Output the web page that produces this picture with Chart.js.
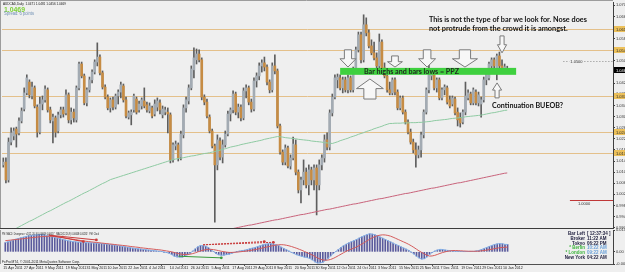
<!DOCTYPE html>
<html><head><meta charset="utf-8">
<script src="https://cdn.jsdelivr.net/npm/chart.js@4.4.1/dist/chart.umd.min.js"></script>
<style>
html,body{margin:0;padding:0;background:#efefef;}
#wrap{position:relative;width:625px;height:272px;overflow:hidden;background:#efefef;}
#c1{position:absolute;left:0;top:0;}
#c2{position:absolute;left:0;top:226px;}
</style></head><body>
<div id="wrap">
<canvas id="c1" width="643" height="229"></canvas>
<canvas id="c2" width="643" height="46"></canvas>
</div>
<script>
// ---------- DATA ----------
const dateTicks = ['15 Apr 2011','27 Apr 2011','9 May 2011','19 May 2011','31 May 2011','10 Jun 2011','22 Jun 2011','4 Jul 2011','14 Jul 2011','26 Jul 2011','5 Aug 2011','17 Aug 2011','29 Aug 2011','8 Sep 2011','20 Sep 2011','30 Sep 2011','12 Oct 2011','24 Oct 2011','3 Nov 2011','15 Nov 2011','25 Nov 2011','7 Dec 2011','19 Dec 2011','29 Dec 2011','10 Jan 2012'];

const open = [1.0126,1.0136,1.0072,1.0208,1.0230,1.0255,1.0241,1.0284,1.0327,1.0385,
1.0424,1.0374,1.0403,1.0334,1.0244,1.0345,1.0360,1.0396,1.0324,1.0284,
1.0295,1.0248,1.0306,1.0324,1.0313,1.0378,1.0288,1.0316,1.0288,1.0403,
1.0489,1.0446,1.0349,1.0396,1.0432,1.0460,1.0496,1.0514,1.0457,1.0406,
1.0370,1.0331,1.0360,1.0334,1.0374,1.0388,1.0410,1.0360,1.0298,1.0306,
1.0324,1.0363,1.0324,1.0338,1.0356,1.0342,1.0320,1.0331,1.0309,1.0334,
1.0349,1.0306,1.0316,1.0316,1.0306,1.0144,1.0194,1.0198,1.0154,1.0234,
1.0331,1.0356,1.0403,1.0468,1.0504,1.0525,1.0504,1.0370,1.0352,1.0298,
1.0248,1.0194,1.0126,1.0212,1.0154,1.0198,1.0237,1.0309,1.0324,1.0381,
1.0316,1.0334,1.0295,1.0392,1.0403,1.0352,1.0327,1.0428,1.0446,1.0482,
1.0493,1.0478,1.0424,1.0396,1.0482,1.0464,1.0266,1.0172,1.0136,1.0187,
1.0122,1.0151,1.0198,1.0100,1.0036,1.0072,1.0100,1.0054,1.0108,1.0072,
1.0115,1.0054,1.0126,1.0151,1.0216,1.0190,1.0313,1.0370,1.0432,1.0439,
1.0403,1.0432,1.0396,1.0439,1.0396,1.0468,1.0540,1.0594,1.0504,1.0630,
1.0601,1.0554,1.0529,1.0511,1.0482,1.0568,1.0475,1.0446,1.0396,1.0385,
1.0432,1.0388,1.0331,1.0367,1.0316,1.0280,1.0244,1.0208,1.0180,1.0162,
1.0180,1.0234,1.0316,1.0396,1.0446,1.0453,1.0403,1.0432,1.0367,1.0396,
1.0403,1.0360,1.0345,1.0363,1.0316,1.0295,1.0280,1.0316,1.0367,1.0381,
1.0349,1.0388,1.0349,1.0345,1.0360,1.0432,1.0439,1.0482,1.0504,1.0475,
1.0518,1.0482,1.0475,1.0471];
const high = [1.0151,1.0151,1.0223,1.0259,1.0259,1.0262,1.0295,1.0331,1.0403,1.0450,
1.0432,1.0424,1.0410,1.0342,1.0370,1.0374,1.0410,1.0403,1.0334,1.0309,
1.0302,1.0316,1.0334,1.0334,1.0396,1.0385,1.0331,1.0327,1.0410,1.0496,
1.0496,1.0453,1.0403,1.0442,1.0468,1.0504,1.0565,1.0522,1.0464,1.0414,
1.0378,1.0367,1.0370,1.0381,1.0396,1.0424,1.0417,1.0370,1.0320,1.0324,
1.0381,1.0370,1.0356,1.0367,1.0403,1.0352,1.0349,1.0338,1.0360,1.0367,
1.0360,1.0338,1.0334,1.0331,1.0313,1.0205,1.0212,1.0205,1.0248,1.0342,
1.0370,1.0414,1.0482,1.0547,1.0543,1.0540,1.0511,1.0378,1.0363,1.0306,
1.0255,1.0201,1.0234,1.0223,1.0216,1.0248,1.0320,1.0331,1.0392,1.0388,
1.0345,1.0342,1.0403,1.0414,1.0410,1.0363,1.0439,1.0457,1.0493,1.0504,
1.0514,1.0486,1.0432,1.0493,1.0522,1.0471,1.0273,1.0180,1.0198,1.0194,
1.0162,1.0226,1.0216,1.0108,1.0082,1.0144,1.0115,1.0126,1.0118,1.0126,
1.0126,1.0144,1.0162,1.0234,1.0241,1.0324,1.0381,1.0450,1.0453,1.0450,
1.0442,1.0442,1.0450,1.0446,1.0478,1.0550,1.0604,1.0604,1.0666,1.0655,
1.0612,1.0576,1.0568,1.0529,1.0597,1.0576,1.0493,1.0457,1.0424,1.0439,
1.0439,1.0396,1.0374,1.0374,1.0324,1.0288,1.0255,1.0219,1.0205,1.0194,
1.0244,1.0324,1.0403,1.0493,1.0468,1.0460,1.0439,1.0439,1.0403,1.0414,
1.0410,1.0374,1.0374,1.0370,1.0331,1.0313,1.0324,1.0424,1.0396,1.0388,
1.0403,1.0396,1.0388,1.0370,1.0442,1.0468,1.0496,1.0511,1.0511,1.0525,
1.0532,1.0504,1.0489,1.0481];
const low = [1.0118,1.0061,1.0064,1.0198,1.0216,1.0190,1.0234,1.0277,1.0320,1.0378,
1.0367,1.0363,1.0331,1.0226,1.0237,1.0324,1.0352,1.0316,1.0277,1.0205,
1.0226,1.0241,1.0295,1.0298,1.0306,1.0277,1.0273,1.0280,1.0280,1.0396,
1.0439,1.0342,1.0338,1.0388,1.0421,1.0453,1.0482,1.0450,1.0399,1.0363,
1.0324,1.0316,1.0324,1.0327,1.0345,1.0367,1.0352,1.0295,1.0291,1.0270,
1.0316,1.0309,1.0316,1.0327,1.0331,1.0316,1.0313,1.0295,1.0302,1.0320,
1.0309,1.0295,1.0306,1.0241,1.0133,1.0136,1.0180,1.0140,1.0144,1.0223,
1.0316,1.0345,1.0396,1.0439,1.0489,1.0496,1.0360,1.0342,1.0295,1.0241,
1.0187,0.9920,1.0108,1.0144,1.0133,1.0190,1.0230,1.0284,1.0313,1.0306,
1.0295,1.0284,1.0288,1.0367,1.0342,1.0316,1.0320,1.0406,1.0432,1.0460,
1.0464,1.0414,1.0385,1.0388,1.0453,1.0259,1.0165,1.0126,1.0126,1.0115,
1.0111,1.0144,1.0090,1.0025,0.9989,1.0054,1.0043,1.0018,1.0054,1.0036,
0.9946,1.0036,1.0108,1.0136,1.0180,1.0180,1.0302,1.0363,1.0403,1.0396,
1.0385,1.0388,1.0385,1.0388,1.0388,1.0457,1.0532,1.0493,1.0496,1.0590,
1.0547,1.0522,1.0504,1.0475,1.0475,1.0468,1.0439,1.0388,1.0378,1.0378,
1.0378,1.0324,1.0324,1.0309,1.0273,1.0237,1.0201,1.0169,1.0118,1.0151,
1.0154,1.0223,1.0309,1.0385,1.0432,1.0396,1.0388,1.0360,1.0360,1.0378,
1.0345,1.0331,1.0338,1.0306,1.0266,1.0262,1.0273,1.0306,1.0360,1.0342,
1.0342,1.0342,1.0338,1.0298,1.0352,1.0414,1.0432,1.0460,1.0475,1.0432,
1.0475,1.0468,1.0464,1.0456];
const close = [1.0136,1.0072,1.0208,1.0241,1.0248,1.0237,1.0284,1.0320,1.0385,1.0439,
1.0378,1.0406,1.0338,1.0244,1.0345,1.0360,1.0399,1.0324,1.0288,1.0298,
1.0244,1.0306,1.0324,1.0309,1.0378,1.0288,1.0316,1.0295,1.0403,1.0489,
1.0446,1.0349,1.0396,1.0432,1.0460,1.0496,1.0514,1.0457,1.0406,1.0370,
1.0331,1.0360,1.0334,1.0374,1.0388,1.0414,1.0360,1.0302,1.0313,1.0316,
1.0374,1.0316,1.0345,1.0360,1.0338,1.0324,1.0338,1.0302,1.0345,1.0356,
1.0324,1.0327,1.0324,1.0309,1.0144,1.0198,1.0201,1.0151,1.0237,1.0331,
1.0360,1.0403,1.0471,1.0511,1.0525,1.0504,1.0370,1.0352,1.0302,1.0248,
1.0194,1.0126,1.0216,1.0154,1.0198,1.0237,1.0309,1.0324,1.0381,1.0316,
1.0334,1.0295,1.0392,1.0403,1.0352,1.0327,1.0428,1.0446,1.0482,1.0493,
1.0478,1.0424,1.0396,1.0482,1.0464,1.0266,1.0172,1.0136,1.0187,1.0122,
1.0151,1.0201,1.0100,1.0036,1.0072,1.0100,1.0054,1.0108,1.0072,1.0115,
1.0054,1.0126,1.0151,1.0216,1.0190,1.0313,1.0370,1.0439,1.0442,1.0403,
1.0432,1.0396,1.0439,1.0396,1.0468,1.0540,1.0594,1.0504,1.0630,1.0601,
1.0554,1.0529,1.0511,1.0482,1.0568,1.0475,1.0446,1.0396,1.0385,1.0432,
1.0388,1.0331,1.0367,1.0316,1.0280,1.0244,1.0208,1.0180,1.0162,1.0180,
1.0234,1.0316,1.0396,1.0450,1.0457,1.0403,1.0432,1.0367,1.0396,1.0406,
1.0352,1.0338,1.0367,1.0313,1.0288,1.0277,1.0316,1.0374,1.0385,1.0349,
1.0396,1.0349,1.0378,1.0360,1.0432,1.0457,1.0489,1.0504,1.0482,1.0518,
1.0482,1.0475,1.0478,1.0469];

const maGreen = [0.9874,0.9879,0.9884,0.9889,0.9893,0.9898,0.9903,0.9908,0.9913,0.9918,
0.9923,0.9927,0.9932,0.9937,0.9942,0.9947,0.9952,0.9957,0.9961,0.9966,
0.9971,0.9976,0.9981,0.9986,0.9991,0.9995,1.0000,1.0005,1.0010,1.0015,
1.0020,1.0025,1.0029,1.0034,1.0039,1.0044,1.0049,1.0054,1.0059,1.0063,
1.0068,1.0073,1.0076,1.0079,1.0082,1.0085,1.0088,1.0091,1.0094,1.0097,
1.0100,1.0103,1.0106,1.0109,1.0112,1.0115,1.0118,1.0121,1.0124,1.0127,
1.0130,1.0133,1.0136,1.0139,1.0142,1.0145,1.0147,1.0149,1.0150,1.0152,
1.0154,1.0156,1.0158,1.0159,1.0161,1.0163,1.0165,1.0167,1.0168,1.0170,
1.0172,1.0174,1.0177,1.0179,1.0182,1.0184,1.0187,1.0190,1.0192,1.0194,
1.0196,1.0199,1.0201,1.0203,1.0205,1.0207,1.0209,1.0211,1.0213,1.0215,
1.0218,1.0220,1.0222,1.0224,1.0226,1.0228,1.0227,1.0226,1.0224,1.0223,
1.0222,1.0221,1.0220,1.0218,1.0217,1.0216,1.0215,1.0214,1.0212,1.0211,
1.0210,1.0209,1.0208,1.0206,1.0205,1.0204,1.0203,1.0206,1.0209,1.0213,
1.0216,1.0219,1.0222,1.0226,1.0229,1.0232,1.0236,1.0239,1.0242,1.0246,
1.0249,1.0252,1.0256,1.0259,1.0262,1.0265,1.0269,1.0272,1.0275,1.0275,
1.0276,1.0276,1.0276,1.0277,1.0277,1.0277,1.0278,1.0278,1.0278,1.0279,
1.0279,1.0280,1.0281,1.0282,1.0283,1.0285,1.0286,1.0287,1.0288,1.0289,
1.0290,1.0292,1.0293,1.0294,1.0295,1.0296,1.0297,1.0299,1.0300,1.0301,
1.0302,1.0303,1.0304,1.0305,1.0307,1.0309,1.0311,1.0313,1.0314,1.0316,
1.0318,1.0320,1.0322,1.0323];

const maRed = Array(80).fill(null).concat([0.9882,0.9884,0.9886,0.9888,0.9889,0.9891,0.9893,0.9895,0.9897,0.9899,
0.9901,0.9903,0.9905,0.9907,0.9909,0.9910,0.9912,0.9914,0.9916,0.9918,
0.9920,0.9922,0.9924,0.9926,0.9928,0.9929,0.9931,0.9933,0.9935,0.9937,
0.9939,0.9941,0.9943,0.9945,0.9947,0.9948,0.9950,0.9952,0.9954,0.9956,
0.9958,0.9960,0.9962,0.9964,0.9966,0.9967,0.9969,0.9971,0.9973,0.9975,
0.9977,0.9979,0.9981,0.9983,0.9985,0.9986,0.9988,0.9990,0.9992,0.9994,
0.9996,0.9998,1.0000,1.0002,1.0004,1.0005,1.0007,1.0009,1.0011,1.0013,
1.0015,1.0017,1.0019,1.0021,1.0023,1.0024,1.0026,1.0028,1.0030,1.0032,
1.0034,1.0036,1.0038,1.0040,1.0042,1.0043,1.0045,1.0047,1.0049,1.0051,
1.0053,1.0055,1.0057,1.0059,1.0061,1.0062,1.0064,1.0066,1.0068,1.0070,
1.0072,1.0074,1.0076,1.0078,1.0080,1.0082,1.0084,1.0086,1.0088,1.0090,
1.0092,1.0094,1.0096,1.0097]);

const macd = [.0063,.0068,.0073,.0080,.0086,.0091,.0095,.0100,.0105,.0109,
.0112,.0114,.0116,.0117,.0117,.0115,.0111,.0107,.0103,.0098,
.0094,.0090,.0085,.0080,.0076,.0073,.0070,.0068,.0066,.0065,
.0063,.0063,.0062,.0061,.0060,.0059,.0057,.0056,.0054,.0052,
.0050,.0048,.0046,.0043,.0040,.0037,.0034,.0031,.0028,.0025,
.0023,.0021,.0019,.0016,.0014,.0012,.0010,.0008,.0006,.0004,
.0003,-.0001,-.0005,-.0010,-.0020,-.0030,-.0034,-.0036,-.0036,-.0030,
-.0020,-.0010,.0005,.0020,.0035,.0043,.0042,.0038,.0030,.0015,
.0002,-.0012,-.0020,-.0023,-.0022,-.0019,-.0016,-.0010,-.0004,.0001,
.0005,.0008,.0011,.0016,.0021,.0025,.0030,.0036,.0042,.0048,
.0052,.0055,.0056,.0053,.0048,.0042,.0032,.0023,.0014,.0005,
-.0004,-.0012,-.0020,-.0026,-.0031,-.0036,-.0040,-.0045,-.0055,-.0068,
-.0076,-.0075,-.0071,-.0060,-.0045,-.0028,-.0012,.0003,.0016,.0030,
.0042,.0052,.0061,.0069,.0076,.0085,.0094,.0103,.0110,.0118,
.0123,.0121,.0116,.0109,.0101,.0093,.0085,.0076,.0068,.0059,
.0051,.0043,.0035,.0026,.0018,.0010,-.0002,-.0015,-.0030,-.0042,
-.0049,-.0047,-.0035,-.0018,-.0005,.0005,.0012,.0017,.0016,.0012,
.0010,.0008,.0006,.0004,.0003,.0003,.0002,.0002,.0003,.0003,
.0003,.0006,.0010,.0016,.0023,.0030,.0037,.0044,.0050,.0054,
.0056,.0055,.0051,.0050];
const signal = [.0076,.0078,.0080,.0082,.0084,.0086,.0088,.0090,.0092,.0094,
.0096,.0098,.0100,.0102,.0104,.0105,.0106,.0106,.0105,.0104,
.0102,.0100,.0098,.0095,.0092,.0089,.0086,.0083,.0080,.0077,
.0075,.0072,.0070,.0068,.0066,.0064,.0062,.0060,.0058,.0056,
.0054,.0052,.0050,.0048,.0046,.0044,.0042,.0040,.0037,.0035,
.0033,.0031,.0028,.0026,.0024,.0022,.0020,.0018,.0016,.0014,
.0012,.0009,.0006,.0003,.0000,-.0005,-.0010,-.0014,-.0017,-.0018,
-.0018,-.0016,-.0012,-.0007,.0000,.0006,.0011,.0015,.0017,.0017,
.0015,.0012,.0008,.0004,.0001,-.0002,-.0004,-.0004,-.0003,-.0002,
.0000,.0002,.0004,.0006,.0009,.0012,.0015,.0019,.0023,.0027,
.0031,.0035,.0039,.0043,.0046,.0048,.0049,.0048,.0045,.0041,
.0036,.0030,.0024,.0017,.0010,.0002,-.0006,-.0014,-.0022,-.0032,
-.0042,-.0050,-.0055,-.0057,-.0056,-.0052,-.0045,-.0036,-.0026,-.0016,
-.0006,.0004,.0012,.0019,.0026,.0034,.0043,.0053,.0064,.0075,
.0086,.0096,.0104,.0110,.0114,.0116,.0115,.0112,.0107,.0100,
.0092,.0084,.0076,.0068,.0060,.0051,.0041,.0030,.0018,.0006,
-.0004,-.0014,-.0024,-.0029,-.0028,-.0024,-.0018,-.0011,-.0005,.0000,
.0004,.0007,.0009,.0009,.0008,.0007,.0006,.0005,.0004,.0004,
.0004,.0004,.0005,.0007,.0009,.0012,.0015,.0018,.0022,.0025,
.0028,.0030,.0031,.0032];

// divergence segments in the MACD window (bar index, value)
const divSegs = [
  {i0:16.7, v0:0.0114, i1:30, v1:0.0070, color:'#c83a3a', dash:[]},
  {i0:16.7, v0:0.0114, i1:35, v1:0.0081, color:'#c83a3a', dash:[]},
  {i0:66.5, v0:-0.0030, i1:83, v1:-0.0041, color:'#3a9a3a', dash:[]},
  {i0:76, v0:0.0048, i1:99.5, v1:0.0070, color:'#c83a3a', dash:[2,1]},
  {i0:76, v0:0.0048, i1:103, v1:0.0065, color:'#c83a3a', dash:[2,1]}
];

const yTicks = [1.0700,1.0660,1.0620,1.0580,1.0540,1.0500,1.0460,1.0420,1.0380,1.0340,1.0300,1.0260,1.0220,1.0180,1.0140,1.0100,1.0060,1.0020,0.9980,0.9940,0.9900];
const macdTicks = [0.0149, 0, -0.0083];
const levels = [1.0615, 1.0540, 1.0375, 1.0245, 1.0170];
const lastPrice = 1.0469;
const headerText = 'AUDCAD,Daily  1.0471 1.0481 1.0456 1.0469';
const spreadText = 'Spread: 6 points';
const macdTitle = 'PM_MACD_Divergence_v2(12, 26, 9) 0.00609 0.00617   MACD(12,26,9) 0.00068 0.00282   PM: Clock';
const copyright = 'FxPro MT4, \u00A9 2001-2011 MetaQuotes Software Corp.';
const clockRows = [
  ['Bar Left', '[ 12:37:34 ]', '#1c1c3c', '#1c1c3c'],
  ['Broker', '11:22 AM', '#1c1c3c', '#1c1c3c'],
  ['Tokyo', '06:22 PM', '#1c1c3c', '#1c1c3c'],
  ['* Berlin', '10:22 AM', '#3cb43c', '#6aa0d8'],
  ['* London', '09:22 AM', '#3cb43c', '#6aa0d8'],
  ['New York', '04:22 AM', '#1c1c3c', '#1c1c3c']
];

// annotations (bar index / price units)
const markLines = [
  {value:1.0500, from:214.5, text:'1.0500', textAt:219.5, dashed:true, color:'#8a8a8a', textDy:0},
  {value:1.0000, from:217.0, text:'1.0000', textAt:222.4, dashed:false, color:'#c03838', textDy:3}
];
const band = {from:129, to:196.4, top:1.0475, bottom:1.0450, text:'Bar highs and bars lows = PPZ', textAt:138.1, textBase:1.0453, textW:36.4};
const arrowsDown = [
  {at:132.0, top:1.0540, tip:1.0478, w:6.1},
  {at:150.0, top:1.0518, tip:1.0478, w:5.7},
  {at:162.3, top:1.0540, tip:1.0478, w:6.5},
  {at:176.8, top:1.0540, tip:1.0478, w:9.6},
  {at:191.0, top:1.0590, tip:1.0529, w:3.5}
];
const arrowsUp = [
  {at:140.4, tip:1.0435, base:1.0363, w:10.3},
  {at:189.1, tip:1.0421, base:1.0367, w:3.5}
];
const notes = [
  {text:'This is not the type of bar we look for. Nose does', at:163.0, base:1.0640, w:60.5},
  {text:'not protrude from the crowd it is amongst.', at:163.0, base:1.0606, w:53.2},
  {text:'Continuation BUEOB?', at:187.2, base:1.0329, w:27.2}
];

// ---------- DRAWING ----------
const C_BULL = '#a3abb3', C_BEAR = '#c68c44', C_WICK = '#5e5e5e';
const SMALL = "'Liberation Sans'";

function fitText(ctx, text, x, y, w, font, color, align) {
  ctx.save();
  ctx.font = font; ctx.fillStyle = color; ctx.textBaseline = 'alphabetic';
  ctx.textAlign = align || 'left';
  const m = ctx.measureText(text).width || 1;
  ctx.translate(x, y); ctx.scale(w / m, 1);
  ctx.fillText(text, 0, 0);
  ctx.restore();
}

function arrowPath(ctx, cx, yBase, yTip, w) {
  const dir = yTip > yBase ? 1 : -1;
  const len = Math.abs(yTip - yBase);
  const hh = len * 0.48, sw = w * 0.45;
  const yNeck = yTip - dir * hh;
  ctx.beginPath();
  ctx.moveTo(cx - sw / 2, yBase);
  ctx.lineTo(cx + sw / 2, yBase);
  ctx.lineTo(cx + sw / 2, yNeck);
  ctx.lineTo(cx + w / 2, yNeck);
  ctx.lineTo(cx, yTip);
  ctx.lineTo(cx - w / 2, yNeck);
  ctx.lineTo(cx - sw / 2, yNeck);
  ctx.closePath();
  ctx.fillStyle = '#f7f7f7'; ctx.fill();
  ctx.strokeStyle = '#7a7a7a'; ctx.lineWidth = 1; ctx.stroke();
}

const mainDeco = {
  id: 'mainDeco',
  beforeDatasetsDraw(chart) {
    const {ctx, chartArea: a, scales: {x, y}} = chart;
    ctx.save();
    ctx.beginPath(); ctx.rect(a.left, a.top, a.right - a.left, a.bottom - a.top); ctx.clip();
    ctx.lineWidth = 1; ctx.strokeStyle = '#e4c08a';
    levels.forEach(v => {
      const yy = Math.round(y.getPixelForValue(v)) + 0.5;
      ctx.beginPath(); ctx.moveTo(a.left, yy); ctx.lineTo(a.right, yy); ctx.stroke();
    });
    markLines.forEach(m => {
      const yy = Math.round(y.getPixelForValue(m.value)) + 0.5;
      ctx.setLineDash(m.dashed ? [1, 2] : []);
      ctx.strokeStyle = m.color;
      ctx.beginPath(); ctx.moveTo(x.getPixelForValue(m.from), yy); ctx.lineTo(a.right, yy); ctx.stroke();
      ctx.setLineDash([]);
      ctx.font = '4px ' + SMALL;
      const tx = x.getPixelForValue(m.textAt);
      const tw = ctx.measureText(m.text).width;
      if (m.textDy === 0) { ctx.fillStyle = '#efefef'; ctx.fillRect(tx - tw / 2 - 1, yy - 2.5, tw + 2, 5); }
      ctx.fillStyle = '#303030'; ctx.textAlign = 'center'; ctx.textBaseline = 'middle';
      ctx.fillText(m.text, tx, yy + m.textDy);
    });
    ctx.restore();
  },
  afterDatasetsDraw(chart) {
    const {ctx, scales: {x, y}} = chart;
    const unit = x.getPixelForValue(1) - x.getPixelForValue(0);
    ctx.save();
    const bx0 = x.getPixelForValue(band.from), bx1 = x.getPixelForValue(band.to);
    const by0 = y.getPixelForValue(band.top), by1 = y.getPixelForValue(band.bottom);
    ctx.fillStyle = '#3fd03f';
    ctx.fillRect(bx0, by0, bx1 - bx0, by1 - by0);
    fitText(ctx, band.text, x.getPixelForValue(band.textAt), y.getPixelForValue(band.textBase), band.textW * unit, "bold 8px 'Lato'", '#202a20');
    arrowsDown.forEach(d => arrowPath(ctx, x.getPixelForValue(d.at), y.getPixelForValue(d.top), y.getPixelForValue(d.tip), d.w * unit));
    arrowsUp.forEach(d => arrowPath(ctx, x.getPixelForValue(d.at), y.getPixelForValue(d.base), y.getPixelForValue(d.tip), d.w * unit));
    notes.forEach(n => fitText(ctx, n.text, x.getPixelForValue(n.at), y.getPixelForValue(n.base), n.w * unit, "bold 8px 'Lato'", '#111111'));
    ctx.restore();
  },
  afterDraw(chart) {
    const {ctx, chartArea: a, scales: {y}} = chart;
    ctx.save();
    const tag = (v, bg, fg) => {
      const yy = Math.round(y.getPixelForValue(v));
      ctx.fillStyle = bg; ctx.fillRect(a.right + 1, yy - 3, 40, 6);
      ctx.fillStyle = fg; ctx.font = '4px ' + SMALL; ctx.textAlign = 'left'; ctx.textBaseline = 'middle';
      ctx.fillText(v.toFixed(4), a.right + 3, yy + 0.5);
    };
    levels.forEach(v => tag(v, '#ecc05a', '#2a2a2a'));
    tag(lastPrice, '#000000', '#ffffff');
    ctx.strokeStyle = '#9c9c9c'; ctx.lineWidth = 1;
    ctx.beginPath(); ctx.moveTo(0.5, 0); ctx.lineTo(0.5, a.bottom); ctx.stroke();
    ctx.beginPath(); ctx.moveTo(0, 0.5); ctx.lineTo(a.right, 0.5); ctx.stroke();
    ctx.strokeStyle = '#3c3c3c';
    ctx.beginPath(); ctx.moveTo(0, a.bottom + 0.5); ctx.lineTo(a.right + 1, a.bottom + 0.5); ctx.stroke();
    fitText(ctx, headerText, 3, 5, 63, '4px ' + SMALL, '#141414');
    fitText(ctx, lastPrice.toFixed(4), 4, 11.5, 21, "bold 7px 'Liberation Sans'", '#7dd236');
    fitText(ctx, spreadText, 4, 15, 30, '4.5px ' + SMALL, '#6f8fb4');
    ctx.restore();
  }
};

const macdDeco = {
  id: 'macdDeco',
  afterDraw(chart) {
    const {ctx, chartArea: a} = chart;
    ctx.save();
    ctx.strokeStyle = '#9c9c9c'; ctx.lineWidth = 1;
    ctx.beginPath(); ctx.moveTo(0.5, a.top); ctx.lineTo(0.5, a.bottom); ctx.stroke();
    fitText(ctx, macdTitle, 2, a.top + 4.5, 97, '4px ' + SMALL, '#1a1a1a');
    fitText(ctx, copyright, 2, a.bottom - 1.5, 78, '4px ' + SMALL, '#1a1a1a');
    ctx.font = 'bold 4.5px ' + SMALL; ctx.textBaseline = 'middle';
    clockRows.forEach((r, k) => {
      const yy = a.top + 3.5 + k * 4.9;
      ctx.textAlign = 'right'; ctx.fillStyle = r[2]; ctx.fillText(r[0], a.right - 28, yy);
      ctx.textAlign = 'left'; ctx.fillStyle = r[3]; ctx.fillText(r[1], a.right - 26, yy);
    });
    ctx.restore();
  }
};

const xBase = {type: 'linear', min: -0.5, max: 233.5, offset: false, bounds: 'data'};

new Chart(document.getElementById('c1'), {
  type: 'bar',
  data: {datasets: [
    {type: 'line', data: maGreen.map((v, i) => ({x: i, y: v})), borderColor: '#8ecaa2', borderWidth: 1, pointRadius: 0, order: 0},
    {type: 'line', data: maRed.map((v, i) => ({x: i, y: v})), borderColor: '#c8627a', borderWidth: 1, pointRadius: 0, order: 0},
    {data: close.map((c, i) => ({x: i, y: [open[i], c]})), backgroundColor: close.map((c, i) => c >= open[i] ? C_BULL : C_BEAR), barThickness: 2, minBarLength: 1, grouped: false, order: 1},
    {data: low.map((l, i) => ({x: i, y: [l, high[i]]})), backgroundColor: C_WICK, barThickness: 1, grouped: false, order: 2}
  ]},
  options: {
    responsive: false, animation: false, events: [],
    layout: {padding: {left: 2, top: 2, right: 0, bottom: 1}},
    plugins: {legend: {display: false}, tooltip: {enabled: false}},
    scales: {
      x: Object.assign({display: true,
        afterFit: s => { s.height = 0; s.paddingLeft = 0; s.paddingRight = 0; },
        ticks: {display: false}, grid: {display: false, drawTicks: false}, border: {display: false}}, xBase),
      y: {type: 'linear', position: 'right', min: 0.9899, max: 1.0712,
        afterBuildTicks: s => { s.ticks = yTicks.map(v => ({value: v})); },
        afterFit: s => { s.width = 30; s.paddingTop = 0; s.paddingBottom = 0; },
        ticks: {font: {family: 'Liberation Sans', size: 4}, color: '#303030', padding: 1, autoSkip: false, callback: v => v.toFixed(4)},
        grid: {drawOnChartArea: false, tickLength: 2, color: '#404040'},
        border: {color: '#404040'}}
    }
  },
  plugins: [mainDeco]
});

new Chart(document.getElementById('c2'), {
  type: 'bar',
  data: {datasets: [
    ...divSegs.map(s => ({type: 'line', data: [{x: s.i0, y: s.v0}, {x: s.i1, y: s.v1}], borderColor: s.color, borderWidth: 1, borderDash: s.dash, pointRadius: [0, 1.4], pointBackgroundColor: s.color, pointBorderWidth: 0, order: 0})),
    {type: 'line', data: signal.map((v, i) => ({x: i, y: v})), borderColor: '#d45b5b', borderWidth: 1, pointRadius: 0, order: 1},
    {type: 'line', data: macd.map((v, i) => ({x: i, y: v})), borderColor: '#86b4ea', borderWidth: 1, pointRadius: 0, order: 2},
    {data: macd.map((v, i) => ({x: i, y: v})), backgroundColor: '#5a5a9c', barThickness: 1, grouped: false, order: 3}
  ]},
  options: {
    responsive: false, animation: false, events: [],
    layout: {padding: {left: 2, top: 3, right: 0, bottom: 0}},
    plugins: {legend: {display: false}, tooltip: {enabled: false}},
    scales: {
      x: Object.assign({position: 'bottom',
        afterBuildTicks: s => { s.ticks = dateTicks.map((t, k) => ({value: k * 8})); },
        afterFit: s => { s.height = 8; s.paddingLeft = 0; s.paddingRight = 0; },
        ticks: {autoSkip: false, maxRotation: 0, minRotation: 0, align: 'start', labelOffset: -2, padding: 0,
          font: {family: 'Liberation Sans', size: 3.6}, color: '#202020', callback: v => dateTicks[Math.round(v / 8)]},
        grid: {drawOnChartArea: false, tickLength: 2, color: '#505050'},
        border: {color: '#505050'}}, xBase),
      y: {type: 'linear', position: 'right', min: -0.0083, max: 0.0149,
        afterBuildTicks: s => { s.ticks = macdTicks.map(v => ({value: v})); },
        afterFit: s => { s.width = 30; s.paddingTop = 0; s.paddingBottom = 0; },
        ticks: {font: {family: 'Liberation Sans', size: 4}, color: '#303030', padding: 1, callback: v => v === 0 ? '0.00' : v.toFixed(4)},
        grid: {drawOnChartArea: false, tickLength: 2, color: '#404040'},
        border: {color: '#404040'}}
    }
  },
  plugins: [macdDeco]
});
</script>
</body></html>
